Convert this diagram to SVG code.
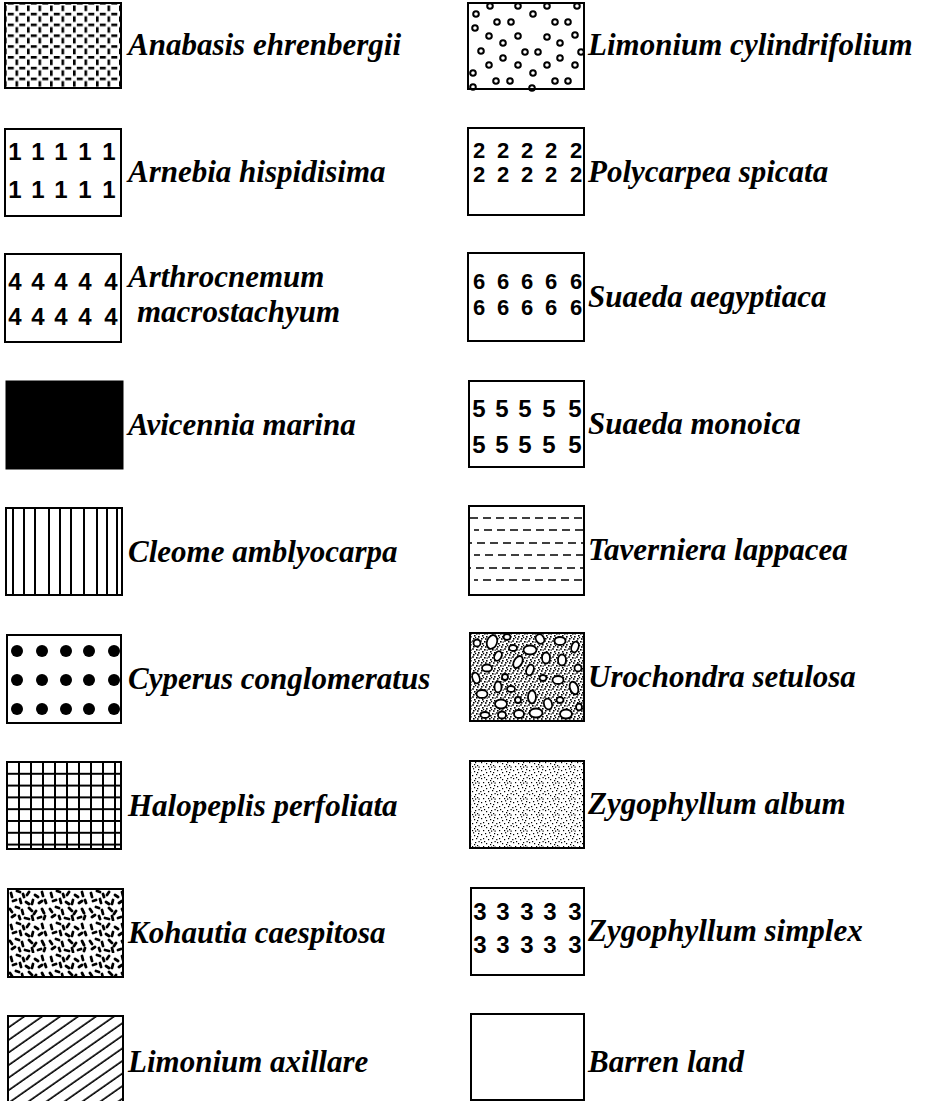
<svg xmlns="http://www.w3.org/2000/svg" width="929" height="1101" viewBox="0 0 929 1101">
<style>
.box{fill:none;stroke:#000;stroke-width:2}
.lbl{font-family:"Liberation Serif","Times New Roman",serif;font-style:italic;font-weight:bold;font-size:31px;fill:#000}
.num{font-family:"Liberation Sans Narrow","Liberation Sans",Arial,sans-serif;font-weight:bold;font-size:22px;fill:#000;text-anchor:middle}
.n1{font-size:20px}
.n2{font-size:24px}
.ln{stroke:#000;stroke-width:2;fill:none}
.circ{fill:none;stroke:#000;stroke-width:2}
.peb{fill:#fff;stroke:#000;stroke-width:1.8}
</style>
<defs>
<pattern id="pAnab" patternUnits="userSpaceOnUse" x="4" y="2" width="11.5" height="10.8">
<rect x="3.8" y="0" width="6" height="2.6" fill="#000"/>
<rect x="0" y="3.5" width="2.6" height="5.6" fill="#000"/>
</pattern>
<pattern id="pGrid" patternUnits="userSpaceOnUse" x="6" y="761" width="12" height="11.8">
<path d="M0 1H12M1 0V11.8" stroke="#000" stroke-width="2"/>
</pattern>
<pattern id="pDiag" patternUnits="userSpaceOnUse" width="40" height="10.3" patternTransform="rotate(-35)">
<path d="M0 2H40" stroke="#000" stroke-width="1.6"/>
</pattern>
<pattern id="pKoh" patternUnits="userSpaceOnUse" x="8" y="889" width="40" height="32">
<path d="M3 4l1 4M9 2l3 1M15 5l1 3M21 3l-2 3M27 6l3 2M34 3l1 4M5 12l3-1M12 10l1 4M18 13l3 2M25 11l-1 4M31 14l3-2M37 11l1 3M2 20l2 3M8 18l3 1M14 21l1 4M21 19l3 3M28 22l-2 3M34 20l2 4M4 28l3-2M11 27l1 3M17 29l4 1M24 27l1 4M30 29l3-1M37 27l-1 3" stroke="#000" stroke-width="2.8" stroke-linecap="round"/>
</pattern>
<pattern id="pStip" patternUnits="userSpaceOnUse" width="16" height="16">
<g fill="#000">
<rect x="1" y="2" width="1.2" height="1.2"/><rect x="5" y="1" width="1.2" height="1.2"/><rect x="10" y="3" width="1.2" height="1.2"/><rect x="14" y="1" width="1.2" height="1.2"/>
<rect x="3" y="6" width="1.2" height="1.2"/><rect x="8" y="7" width="1.2" height="1.2"/><rect x="12" y="6" width="1.2" height="1.2"/><rect x="14.5" y="9" width="1.2" height="1.2"/>
<rect x="1" y="10" width="1.2" height="1.2"/><rect x="6" y="11" width="1.2" height="1.2"/><rect x="11" y="10" width="1.2" height="1.2"/><rect x="3" y="14" width="1.2" height="1.2"/>
<rect x="8" y="14" width="1.2" height="1.2"/><rect x="13" y="13" width="1.2" height="1.2"/><rect x="6" y="4" width="1.2" height="1.2"/><rect x="10" y="12" width="1.2" height="1.2"/>
<rect x="0.2" y="7" width="1.2" height="1.2"/><rect x="13" y="4" width="1.2" height="1.2"/><rect x="4" y="9" width="1.2" height="1.2"/><rect x="9" y="0.2" width="1.2" height="1.2"/>
<rect x="14.5" y="14.5" width="1.2" height="1.2"/><rect x="11" y="14.5" width="1.2" height="1.2"/>
</g>
</pattern>
<pattern id="pDense" patternUnits="userSpaceOnUse" width="8" height="8">
<g fill="#000">
<rect x="0.2" y="0.2" width="1.6" height="1.6"/><rect x="4" y="1" width="1.6" height="1.6"/><rect x="2" y="3" width="1.6" height="1.6"/><rect x="6" y="4" width="1.6" height="1.6"/>
<rect x="1" y="6" width="1.6" height="1.6"/><rect x="5" y="6.2" width="1.6" height="1.6"/><rect x="6.6" y="1.5" width="1.2" height="1.2"/><rect x="3" y="5" width="1.2" height="1.2"/>
</g>
</pattern>
</defs>

<g id="connectors"></g>

<!-- Left column -->
<g id="anabasis">
<rect x="5" y="3" width="116" height="85" fill="url(#pAnab)"/>
<rect class="box" x="5" y="3" width="116" height="85"/>
<text class="lbl" x="128" y="55">Anabasis ehrenbergii</text>
</g>

<g id="arnebia">
<rect class="box" x="5" y="129" width="116" height="87"/>
<g class="num n2">
<text x="15" y="160">1</text><text x="38" y="160">1</text><text x="61" y="160">1</text><text x="85" y="160">1</text><text x="109" y="160">1</text>
<text x="15" y="198">1</text><text x="38" y="198">1</text><text x="61" y="198">1</text><text x="85" y="198">1</text><text x="109" y="198">1</text>
</g>
<text class="lbl" x="128" y="182">Arnebia hispidisima</text>
</g>

<g id="arthrocnemum">
<rect class="box" x="5" y="254" width="116" height="88"/>
<g class="num n2">
<text x="15" y="290">4</text><text x="38" y="290">4</text><text x="61" y="290">4</text><text x="85" y="290">4</text><text x="111" y="290">4</text>
<text x="15" y="325">4</text><text x="38" y="325">4</text><text x="61" y="325">4</text><text x="85" y="325">4</text><text x="111" y="325">4</text>
</g>
<text class="lbl" x="128" y="287">Arthrocnemum</text>
<text class="lbl" x="137" y="322">macrostachyum</text>
</g>

<g id="avicennia">
<rect x="6" y="381" width="117" height="88" fill="#000" stroke="#000" stroke-width="1"/>
<text class="lbl" x="128" y="435">Avicennia marina</text>
</g>

<g id="cleome">
<rect class="box" x="6" y="508" width="116" height="87"/>
<path class="ln" d="M13 508V595M24 508V595M35 508V595M49 508V595M60 508V595M71 508V595M84 508V595M97 508V595M107 508V595M117 508V595"/>
<text class="lbl" x="128" y="562">Cleome amblyocarpa</text>
</g>

<g id="cyperus">
<rect class="box" x="7" y="635" width="114" height="88"/>
<g fill="#000">
<circle cx="17" cy="651" r="6"/><circle cx="42" cy="651" r="6"/><circle cx="66" cy="651" r="6"/><circle cx="89" cy="651" r="6"/><circle cx="114" cy="651" r="6"/>
<circle cx="17" cy="680" r="6"/><circle cx="42" cy="680" r="6"/><circle cx="66" cy="680" r="6"/><circle cx="89" cy="680" r="6"/><circle cx="114" cy="680" r="6"/>
<circle cx="17" cy="709" r="6"/><circle cx="42" cy="709" r="6"/><circle cx="66" cy="709" r="6"/><circle cx="89" cy="709" r="6"/><circle cx="114" cy="709" r="6"/>
</g>
<text class="lbl" x="128" y="689">Cyperus conglomeratus</text>
</g>

<g id="halopeplis">
<rect x="7" y="762" width="114" height="87" fill="url(#pGrid)"/>
<rect class="box" x="7" y="762" width="114" height="87"/>
<text class="lbl" x="128" y="816">Halopeplis perfoliata</text>
</g>

<g id="kohautia">
<rect x="8" y="889" width="115" height="88" fill="url(#pKoh)"/>
<rect class="box" x="8" y="889" width="115" height="88"/>
<text class="lbl" x="128" y="943">Kohautia caespitosa</text>
</g>

<g id="limonium-axillare">
<rect x="8" y="1016" width="115" height="90" fill="url(#pDiag)"/>
<rect class="box" x="8" y="1016" width="115" height="90"/>
<text class="lbl" x="128" y="1072">Limonium axillare</text>
</g>

<!-- Right column -->
<g id="limonium-cylindrifolium">
<rect class="box" x="468" y="3" width="116" height="86"/>
<g class="circ">
<circle cx="490" cy="6" r="2.8"/><circle cx="518" cy="6" r="2.8"/><circle cx="547" cy="6" r="2.8"/><circle cx="577" cy="6" r="2.8"/>
<circle cx="476" cy="14" r="2.8"/><circle cx="533" cy="14" r="2.8"/>
<circle cx="497" cy="22" r="2.8"/><circle cx="511" cy="22" r="2.8"/><circle cx="555" cy="22" r="2.8"/><circle cx="568" cy="22" r="2.8"/>
<circle cx="475" cy="28" r="2.8"/>
<circle cx="489" cy="36" r="2.8"/><circle cx="518" cy="36" r="2.8"/><circle cx="547" cy="37" r="2.8"/><circle cx="575" cy="35" r="2.8"/>
<circle cx="503" cy="43" r="2.8"/><circle cx="560" cy="43" r="2.8"/>
<circle cx="481" cy="51" r="2.8"/><circle cx="525" cy="52" r="2.8"/><circle cx="538" cy="52" r="2.8"/><circle cx="581" cy="52" r="2.8"/>
<circle cx="503" cy="58" r="2.8"/><circle cx="560" cy="58" r="2.8"/>
<circle cx="489" cy="65" r="2.8"/><circle cx="518" cy="65" r="2.8"/><circle cx="547" cy="65" r="2.8"/><circle cx="575" cy="65" r="2.8"/>
<circle cx="473" cy="73" r="2.8"/><circle cx="533" cy="73" r="2.8"/>
<circle cx="496" cy="81" r="2.8"/><circle cx="510" cy="81" r="2.8"/><circle cx="555" cy="81" r="2.8"/><circle cx="568" cy="81" r="2.8"/>
<circle cx="473" cy="87" r="2.8"/><circle cx="532" cy="88" r="2.8"/>
</g>
<text class="lbl" x="588" y="55">Limonium cylindrifolium</text>
</g>

<g id="polycarpea">
<rect class="box" x="468" y="128" width="116" height="87"/>
<g class="num">
<text x="479" y="158">2</text><text x="503" y="158">2</text><text x="527" y="158">2</text><text x="551" y="158">2</text><text x="576" y="158">2</text>
<text x="479" y="182">2</text><text x="503" y="182">2</text><text x="527" y="182">2</text><text x="551" y="182">2</text><text x="576" y="182">2</text>
</g>
<text class="lbl" x="588" y="182">Polycarpea spicata</text>
</g>

<g id="suaeda-aegyptiaca">
<rect class="box" x="468" y="253" width="116" height="88"/>
<g class="num">
<text x="479" y="289">6</text><text x="503" y="289">6</text><text x="527" y="289">6</text><text x="551" y="289">6</text><text x="576" y="289">6</text>
<text x="479" y="315">6</text><text x="503" y="315">6</text><text x="527" y="315">6</text><text x="551" y="315">6</text><text x="576" y="315">6</text>
</g>
<text class="lbl" x="588" y="307">Suaeda aegyptiaca</text>
</g>

<g id="suaeda-monoica">
<rect class="box" x="469" y="381" width="115" height="86"/>
<g class="num n2">
<text x="479" y="417">5</text><text x="502" y="417">5</text><text x="525" y="417">5</text><text x="549" y="417">5</text><text x="575" y="417">5</text>
<text x="479" y="453">5</text><text x="502" y="453">5</text><text x="525" y="453">5</text><text x="549" y="453">5</text><text x="575" y="453">5</text>
</g>
<text class="lbl" x="588" y="434">Suaeda monoica</text>
</g>

<g id="taverniera">
<rect class="box" x="469" y="506" width="115" height="89"/>
<g stroke="#000" stroke-width="1.6" stroke-dasharray="8 5">
<path d="M470 518H584"/><path d="M474 530H584" stroke-dashoffset="3"/><path d="M470 543H584" stroke-dashoffset="6"/>
<path d="M474 555H584" stroke-dashoffset="2"/><path d="M470 568H584" stroke-dashoffset="7"/><path d="M474 580H584" stroke-dashoffset="4"/>
</g>
<text class="lbl" x="588" y="560">Taverniera lappacea</text>
</g>

<g id="urochondra">
<rect x="470" y="633" width="114" height="88" fill="url(#pDense)"/>
<g class="peb">
<ellipse cx="477" cy="643" rx="3.5" ry="3.5"/>
<ellipse cx="492" cy="642" rx="5" ry="7" transform="rotate(20 492 642)"/>
<ellipse cx="507" cy="637" rx="3.5" ry="3"/>
<ellipse cx="513" cy="648" rx="4" ry="3"/>
<ellipse cx="530" cy="650" rx="6.5" ry="4.5"/>
<ellipse cx="540" cy="639" rx="4" ry="5" transform="rotate(-30 540 639)"/>
<ellipse cx="546" cy="658" rx="4" ry="5.5"/>
<ellipse cx="498" cy="656" rx="3.5" ry="5" transform="rotate(25 498 656)"/>
<ellipse cx="487" cy="668" rx="5" ry="3.5"/>
<ellipse cx="476" cy="678" rx="3.5" ry="5.5" transform="rotate(-20 476 678)"/>
<ellipse cx="518" cy="662" rx="4" ry="6.5" transform="rotate(30 518 662)"/>
<ellipse cx="505" cy="677" rx="3" ry="3"/>
<ellipse cx="530" cy="670" rx="3.5" ry="5.5" transform="rotate(20 530 670)"/>
<ellipse cx="543" cy="678" rx="3.5" ry="3"/>
<ellipse cx="482" cy="694" rx="5.5" ry="4"/>
<ellipse cx="498" cy="687" rx="3.5" ry="5.5"/>
<ellipse cx="511" cy="689" rx="4" ry="3"/>
<ellipse cx="501" cy="704" rx="6" ry="4.5"/>
<ellipse cx="518" cy="700" rx="3" ry="3"/>
<ellipse cx="532" cy="697" rx="4" ry="6.5"/>
<ellipse cx="548" cy="704" rx="4" ry="5.5" transform="rotate(-15 548 704)"/>
<ellipse cx="485" cy="715" rx="4.5" ry="3"/>
<ellipse cx="502" cy="715" rx="4" ry="3.5"/>
<ellipse cx="519" cy="714" rx="5" ry="4"/>
<ellipse cx="536" cy="713" rx="6.5" ry="4.5"/>
<ellipse cx="560" cy="641" rx="5.5" ry="4"/>
<ellipse cx="575" cy="647" rx="3.5" ry="5.5" transform="rotate(20 575 647)"/>
<ellipse cx="562" cy="660" rx="4" ry="5.5"/>
<ellipse cx="578" cy="668" rx="3.5" ry="3.5"/>
<ellipse cx="558" cy="680" rx="5.5" ry="4"/>
<ellipse cx="574" cy="688" rx="4" ry="6.5" transform="rotate(-20 574 688)"/>
<ellipse cx="560" cy="700" rx="3.5" ry="3"/>
<ellipse cx="566" cy="714" rx="6" ry="4.5"/>
<ellipse cx="579" cy="707" rx="3" ry="3.5"/>
</g>
<rect class="box" x="470" y="633" width="114" height="88"/>
<text class="lbl" x="588" y="687">Urochondra setulosa</text>
</g>

<g id="zygophyllum-album">
<rect x="470" y="761" width="114" height="87" fill="url(#pStip)"/>
<rect class="box" x="470" y="761" width="114" height="87"/>
<text class="lbl" x="588" y="814">Zygophyllum album</text>
</g>

<g id="zygophyllum-simplex">
<rect class="box" x="471" y="888" width="113" height="87"/>
<g class="num n2">
<text x="480" y="920">3</text><text x="503" y="920">3</text><text x="527" y="920">3</text><text x="550" y="920">3</text><text x="575" y="920">3</text>
<text x="480" y="953">3</text><text x="503" y="953">3</text><text x="527" y="953">3</text><text x="550" y="953">3</text><text x="575" y="953">3</text>
</g>
<text class="lbl" x="588" y="941">Zygophyllum simplex</text>
</g>

<g id="barren-land">
<rect class="box" x="471" y="1014" width="113" height="86"/>
<text class="lbl" x="588" y="1072">Barren land</text>
</g>
</svg>
